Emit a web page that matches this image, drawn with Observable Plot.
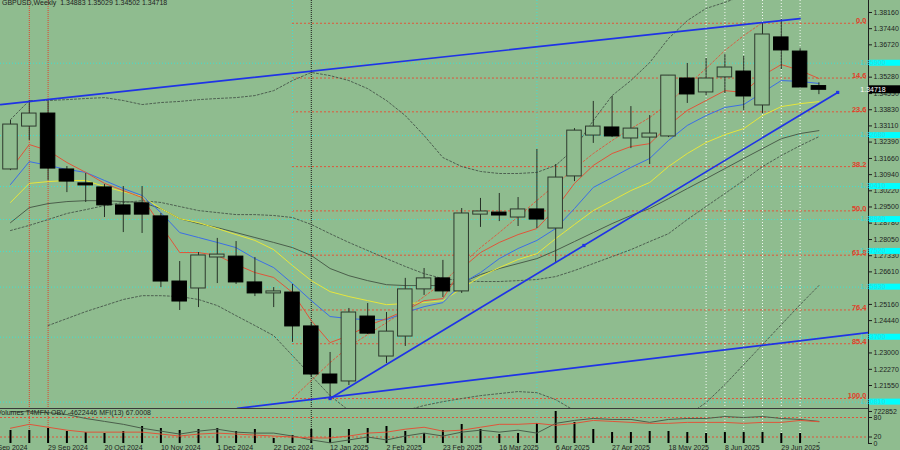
<!DOCTYPE html>
<html><head><meta charset="utf-8">
<script src="https://cdn.jsdelivr.net/npm/d3@7"></script>
<script src="https://cdn.jsdelivr.net/npm/@observablehq/plot@0.6"></script>
<style>
html,body{margin:0;padding:0;background:#8fbc8f;}
#wrap{position:relative;width:900px;height:450px;overflow:hidden;background:#8fbc8f;font-family:"Liberation Sans",Arial,sans-serif;}
#main{position:absolute;left:0;top:0;}
#ind{position:absolute;left:0;top:408px;}
#sep{position:absolute;left:0;top:408px;width:868px;height:1px;background:#3a3a3a;}
.hdr{position:absolute;font-size:7px;line-height:8px;color:#1e1e1e;white-space:pre;}
</style></head><body>
<div id="wrap">
<div id="main"></div><div id="ind"></div><div id="sep"></div>
<div class="hdr" style="left:2px;top:-1px;">GBPUSD,Weekly  1.34883 1.35029 1.34502 1.34718</div>
<div class="hdr" style="left:-3px;top:409px;">Volumes T4MFN OBV -4622446 MFI(13) 67.0008</div>
</div>
<script>
// ---------- data (weekly bars, first bar = week of 15 Sep 2024) ----------
const firstWeek = "2024-09-15";
const opens  = [1.3117,1.3308,1.3366,1.3117,1.3055,1.3037,1.2957,1.2966,1.2908,1.2618,1.2587,1.2725,1.2729,1.2614,1.2565,1.2569,1.2418,1.2204,1.2173,1.2462,1.2284,1.2373,1.2583,1.2632,1.2574,1.2916,1.2925,1.2903,1.2939,1.2854,1.3086,1.3268,1.3304,1.3255,1.3259,1.3264,1.3522,1.3460,1.3527,1.3553,1.3402,1.3705,1.3642,1.34883];
const highs  = [1.3335,1.3424,1.3420,1.3130,1.3099,1.3050,1.3041,1.3041,1.2921,1.2707,1.2747,1.2810,1.2796,1.2725,1.2591,1.2605,1.2436,1.2302,1.2498,1.2520,1.2480,1.2632,1.2676,1.2712,1.2943,1.2988,1.3010,1.2992,1.3206,1.3139,1.3299,1.3420,1.3442,1.3397,1.3357,1.3535,1.3589,1.3611,1.3629,1.3620,1.3767,1.3785,1.3656,1.35029];
const lows   = [1.3112,1.3246,1.3068,1.3014,1.2970,1.2903,1.2836,1.2832,1.2591,1.2489,1.2502,1.2609,1.2605,1.2551,1.2502,1.2347,1.2191,1.2097,1.2155,1.2382,1.2253,1.2329,1.2556,1.2547,1.2565,1.2859,1.2885,1.2863,1.2854,1.2703,1.3063,1.3233,1.3259,1.3210,1.3139,1.3259,1.3411,1.3446,1.3455,1.3380,1.3366,1.3562,1.3482,1.34502];
const closes = [1.3317,1.3366,1.3121,1.3063,1.3046,1.2957,1.2916,1.2916,1.2618,1.2529,1.2734,1.2738,1.2614,1.2565,1.2574,1.2418,1.2204,1.2164,1.2480,1.2386,1.2395,1.2583,1.2632,1.2574,1.2921,1.2930,1.2912,1.2939,1.2894,1.3081,1.3290,1.3308,1.3264,1.3299,1.3277,1.3535,1.3451,1.3522,1.3571,1.3442,1.3718,1.3647,1.3482,1.34718];
const volumes = [294000,294000,339000,271000,248000,226000,271000,384000,339000,294000,316000,339000,271000,316000,113000,181000,316000,339000,316000,339000,384000,271000,226000,294000,429000,316000,203000,226000,452000,722852,474000,316000,248000,248000,271000,271000,248000,226000,248000,248000,248000,226000,226000,10000];
const volAxisMax = 722852;

const maRed    = [1.3117,1.3228,1.3201,1.3148,1.3104,1.3055,1.3023,1.2992,1.2868,1.2747,1.2747,1.2734,1.2694,1.2658,1.2636,1.2569,1.2444,1.2346,1.2377,1.2422,1.2453,1.2489,1.2533,1.2542,1.2676,1.2747,1.2792,1.2827,1.2854,1.2943,1.3055,1.3135,1.3188,1.3219,1.3232,1.3313,1.3380,1.3424,1.3468,1.3460,1.3535,1.3584,1.3558,1.3522];
const maBlue   = [1.3050,1.3152,1.3135,1.3117,1.3104,1.3068,1.3032,1.3001,1.2925,1.2836,1.2814,1.2792,1.2769,1.2720,1.2680,1.2609,1.2533,1.2462,1.2453,1.2448,1.2448,1.2480,1.2506,1.2524,1.2609,1.2658,1.2720,1.2765,1.2801,1.2854,1.2943,1.3037,1.3081,1.3126,1.3166,1.3246,1.3313,1.3357,1.3393,1.3406,1.3460,1.3513,1.3509,1.3500];
const maYellow = [1.2970,1.3055,1.3063,1.3068,1.3068,1.3041,1.3018,1.2996,1.2943,1.2898,1.2880,1.2854,1.2827,1.2801,1.2760,1.2689,1.2622,1.2573,1.2551,1.2533,1.2515,1.2520,1.2524,1.2533,1.2587,1.2640,1.2680,1.2716,1.2742,1.2809,1.2872,1.2934,1.2978,1.3023,1.3059,1.3130,1.3188,1.3237,1.3272,1.3299,1.3357,1.3397,1.3410,1.3419];
const maGreen  = [1.2880,1.2947,1.2965,1.2974,1.2978,1.2978,1.2974,1.2970,1.2943,1.2898,1.2876,1.2858,1.2836,1.2814,1.2792,1.2769,1.2734,1.2676,1.2644,1.2622,1.2604,1.2600,1.2600,1.2600,1.2613,1.2649,1.2676,1.2698,1.2720,1.2756,1.2796,1.2836,1.2876,1.2912,1.2943,1.2987,1.3032,1.3076,1.3121,1.3166,1.3210,1.3254,1.3277,1.3290];
const maSlow   = [1.2845,1.2868,1.2894,1.2921,1.2938,1.2956,1.2970,1.2978,1.2970,1.2952,1.2934,1.2925,1.2916,1.2916,1.2912,1.2903,1.2872,1.2831,1.2792,1.2756,1.2720,1.2685,1.2653,1.2631,1.2622,1.2618,1.2618,1.2622,1.2627,1.2640,1.2667,1.2698,1.2729,1.2760,1.2796,1.2831,1.2894,1.2952,1.3010,1.3068,1.3130,1.3179,1.3223,1.3263];
const bbUpper  = [1.3339,1.3424,1.3424,1.3428,1.3433,1.3437,1.3424,1.3406,1.3415,1.3420,1.3428,1.3433,1.3437,1.3446,1.3468,1.3513,1.3549,1.3535,1.3513,1.3477,1.3424,1.3357,1.3268,1.3170,1.3130,1.3108,1.3099,1.3099,1.3104,1.3135,1.3210,1.3335,1.3446,1.3513,1.3593,1.3700,1.3780,1.3834,1.3861,1.3892,null,null,null,null];
const bbLower  = [null,null,1.2422,1.2453,1.2484,1.2511,1.2538,1.2555,1.2555,1.2551,1.2538,1.2511,1.2466,1.2422,1.2377,1.2288,1.2199,1.2110,1.2043,null,null,1.2043,1.2066,1.2083,1.2097,1.2110,1.2119,1.2128,1.2123,1.2092,1.2043,null,null,null,null,null,1.2021,1.2079,1.2159,1.2248,1.2337,1.2426,1.2515,1.2600];
const redDotted = [null,null,null,null,null,null,null,null,null,null,null,null,null,null,null,1.2097,1.2177,1.2257,1.2328,1.2382,1.2435,1.2489,1.2551,1.2613,1.2694,1.2769,1.2836,1.2907,1.2979,1.3050,1.3121,1.3188,1.3246,1.3299,1.3348,1.3411,1.3491,1.3567,1.3647,1.3713,1.3771,null,null,null];

const mfi = [47,59,50,41,35,35,35,35,29,23,29,32,29,26,23,20,17,17,23,32,35,44,50,38,41,50,59,59,62,56,62,71,68,65,62,62,65,65,65,62,65,65,71,67.0008];
const obv = [98,98,95,89,77,68,59,47,38,29,38,44,35,32,32,23,11,2,11,20,11,23,32,23,35,41,35,41,32,62,71,77,74,74,65,74,77,77,83,80,83,77,74,68];

// price-scale labels that remain visible (the others sit under the cyan line labels)
const priceTicks = [1.38160,1.37440,1.36720,1.35280,1.34550,1.33830,1.33110,1.32390,1.31660,1.30940,1.30220,1.29500,1.28780,1.28050,1.27330,1.26610,1.25160,1.24440,1.23000,1.22270,1.21550];
const cyanLevels = [1.3590,1.3268,1.3041,1.2894,1.2752,1.2593,1.2370,1.2081];
const fibRatios = [0.0,14.6,23.6,38.2,50.0,61.8,76.4,85.4,100.0];
const fibHigh = 1.3768, fibLow = 1.2097, fibStart = "2024-12-29";
const dateTicks = ["2024-09-08","2024-09-29","2024-10-20","2024-11-10","2024-12-01","2024-12-22","2025-01-12","2025-02-02","2025-02-23","2025-03-16","2025-04-06","2025-04-27","2025-05-18","2025-06-08","2025-06-29"];
const mfiLevels = [20, 80];
const redVLines = ["2024-09-22","2024-09-29"];
const cyanVLines = ["2024-12-29","2025-03-30"];
const blackVLines = ["2025-01-05"];
const whiteVLines = ["2025-06-01","2025-06-08","2025-06-15","2025-06-22","2025-06-29","2025-07-06"];
const upperTrend = [{date:"2024-09-11T07:00:00Z",price:1.3406},{date:"2025-07-06",price:1.3789}];
const riseTrend  = [{date:"2025-01-12",price:1.2097},{date:"2025-07-20",price:1.3460}];
const lowTrend   = [{date:"2024-12-08T12:00:00Z",price:1.2053},{date:"2025-07-31T12:00:00Z",price:1.2391}];
const lastClose = 1.34718;

// ---------- build ----------
const DAY = 864e5;
const t0 = new Date(firstWeek + "T00:00:00Z");
const barDate = i => new Date(+t0 + i*7*DAY);
const D = s => new Date(s.length === 10 ? s + "T00:00:00Z" : s);
const xDomain = [new Date(+t0 - 3.72*DAY), new Date(+t0 + 319.47*DAY)];
const bg = "#8fbc8f";
const bars = opens.map((o,i)=>({date:barDate(i),o,h:highs[i],l:lows[i],c:closes[i],v:volumes[i],mfi:mfi[i],obv:obv[i]}));
const series = arr => arr.map((v,i)=>({date:barDate(i), v}));
const fibLevels = fibRatios.map(r=>({r, price: fibHigh - r/100*(fibHigh-fibLow)}));
const tl = arr => arr.map(d=>({date:D(d.date), price:d.price}));
const riseMid = {date:new Date((+D(riseTrend[0].date) + +D(riseTrend[1].date))/2), price:(riseTrend[0].price+riseTrend[1].price)/2};
const dotGray = {stroke:"#46564a", strokeWidth:0.9, strokeDasharray:"2,2", clip:true};

const vlineMarks = () => [
  Plot.ruleX(cyanVLines.map(D), {stroke:"#40e0d0", strokeDasharray:"1,2"}),
  Plot.ruleX(redVLines.map(D), {stroke:"#e0402a", strokeDasharray:"1,1"}),
  Plot.ruleX(blackVLines.map(D), {stroke:"#1a1a1a", strokeDasharray:"1,1"}),
  Plot.ruleX(whiteVLines.map(D), {stroke:"#ffffff", strokeDasharray:"1,2", strokeOpacity:0.9})
];

const main = Plot.plot({
  width:900, height:408, marginLeft:0, marginRight:32, marginTop:0, marginBottom:0,
  style:{background:"transparent", fontFamily:"Liberation Sans, Arial, sans-serif", fontSize:"7px", color:"#1e1e1e", overflow:"visible"},
  x:{type:"utc", domain:xDomain, axis:null},
  y:{domain:[1.20526,1.38694], axis:"right", ticks:priceTicks, tickFormat:d3.format(".5f"), tickSize:3, tickPadding:2, label:null, line:true},
  marks:[
    Plot.ruleY(cyanLevels, {stroke:"#40e0d0", strokeDasharray:"1,2"}),
    Plot.ruleY(fibLevels, {y:"price", x1:D(fibStart), x2:xDomain[1], stroke:"#e0553a", strokeDasharray:"2,2"}),
    ...vlineMarks(),
    Plot.line(series(bbUpper), {x:"date", y:"v", ...dotGray}),
    Plot.line(series(bbLower), {x:"date", y:"v", ...dotGray}),
    Plot.line(series(maSlow), {x:"date", y:"v", ...dotGray}),
    Plot.line(series(redDotted), {x:"date", y:"v", stroke:"#e0553a", strokeWidth:0.9, strokeDasharray:"2,2", clip:true}),
    Plot.line(series(maGreen), {x:"date", y:"v", stroke:"#4b5e4b", strokeWidth:1, clip:true}),
    Plot.line(series(maYellow), {x:"date", y:"v", stroke:"#e6e63c", strokeWidth:1, clip:true}),
    Plot.line(series(maBlue), {x:"date", y:"v", stroke:"#3c6ee6", strokeWidth:1, clip:true}),
    Plot.line(series(maRed), {x:"date", y:"v", stroke:"#e0553a", strokeWidth:1, clip:true}),
    Plot.ruleX(bars, {x:"date", y1:"l", y2:"h", stroke:"#263026", strokeWidth:1}),
    Plot.rect(bars, {x1:d=>new Date(+d.date-2.7*DAY), x2:d=>new Date(+d.date+2.7*DAY), y1:"o", y2:"c",
      fill:d=>d.c>=d.o?bg:"#000000", stroke:d=>d.c>=d.o?"#2e3a2e":"#000000", strokeWidth:1}),
    Plot.line(tl(upperTrend), {x:"date", y:"price", stroke:"#1f33e6", strokeWidth:1.7, clip:true}),
    Plot.line(tl(riseTrend), {x:"date", y:"price", stroke:"#1f33e6", strokeWidth:1.7, clip:true}),
    Plot.line(tl(lowTrend), {x:"date", y:"price", stroke:"#1f33e6", strokeWidth:1.7, clip:true}),
    Plot.dot([...tl(riseTrend), riseMid], {x:"date", y:"price", symbol:"square", r:1.8, fill:"#1f33e6"}),
    Plot.text(fibLevels, {y:"price", frameAnchor:"right", dx:-2, dy:-2.5, textAnchor:"end", text:d=>d.r.toFixed(1), fill:"#e0402a", fontSize:7.5, fontWeight:"bold"})
  ]
});
document.getElementById("main").appendChild(main);

// price-axis labels for cyan levels and the last close, placed with the plot's scales
const ys = main.scale("y"), xr = main.scale("x").range;
const g = d3.select(main).append("g").attr("font-family","Liberation Sans, Arial, sans-serif").attr("font-size",7);
cyanLevels.forEach(p=>{
  const y = ys.apply(p);
  g.append("rect").attr("x",xr[1]+1).attr("y",y-3).attr("width",31).attr("height",6).attr("fill","#00ffff");
  g.append("text").attr("x",xr[1]+5).attr("y",y).attr("dy","0.32em").attr("fill","#3cd6d6").text(d3.format(".5f")(p));
});
{
  const y = ys.apply(lastClose);
  g.append("rect").attr("x",xr[1]+1).attr("y",y-4).attr("width",31).attr("height",8).attr("fill","#000000");
  g.append("text").attr("x",xr[1]+5).attr("y",y).attr("dy","0.32em").attr("fill","#ffffff").text(d3.format(".5f")(lastClose));
}

const ind = Plot.plot({
  width:900, height:42, marginLeft:0, marginRight:32, marginTop:0, marginBottom:7,
  style:{background:"transparent", fontFamily:"Liberation Sans, Arial, sans-serif", fontSize:"7px", color:"#1e1e1e", overflow:"visible"},
  x:{type:"utc", domain:xDomain, axis:null},
  y:{domain:[0,107.7], axis:"right", ticks:[0,20,80,98.5], tickFormat:d=>d===98.5?String(volAxisMax):String(d), tickSize:3, tickPadding:2, label:null, line:true},
  marks:[
    Plot.ruleY(mfiLevels, {stroke:"#e0553a", strokeDasharray:"2,2"}),
    ...vlineMarks(),
    Plot.ruleX(bars, {x:"date", y1:0, y2:d=>d.v/volAxisMax*98.5, stroke:"#000000", strokeWidth:2}),
    Plot.line(bars, {x:"date", y:"obv", stroke:"#4b5e4b", strokeWidth:1}),
    Plot.line(bars, {x:"date", y:"mfi", stroke:"#e0553a", strokeWidth:1}),
    Plot.text(dateTicks.map(D), {x:d=>d, frameAnchor:"bottom", dy:1.5, lineAnchor:"top", textAnchor:"start", text:d=>d3.utcFormat("%-d %b %Y")(d), fill:"#1e1e1e", fontSize:7})
  ]
});
document.getElementById("ind").appendChild(ind);
</script>
</body></html>
